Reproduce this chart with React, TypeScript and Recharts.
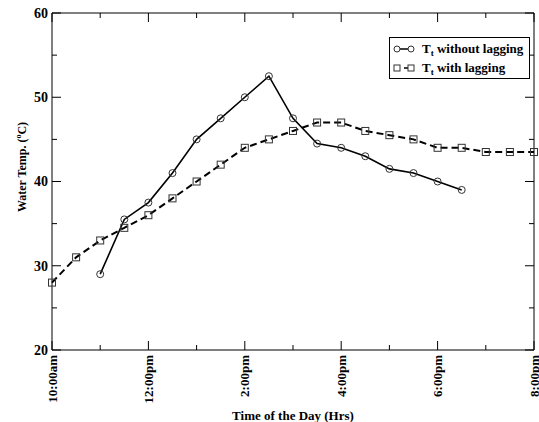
import React from 'react';
import { LineChart, Line, XAxis, YAxis, Legend } from 'recharts';

// hours of the day (decimal, 24h clock)
const hoursWithout = [11, 11.5, 12, 12.5, 13, 13.5, 14, 14.5, 15, 15.5, 16, 16.5, 17, 17.5, 18, 18.5];
const tempWithout = [29, 35.5, 37.5, 41, 45, 47.5, 50, 52.5, 47.5, 44.5, 44, 43, 41.5, 41, 40, 39];

const hoursWith = [10, 10.5, 11, 11.5, 12, 12.5, 13, 13.5, 14, 14.5, 15, 15.5, 16, 16.5, 17, 17.5, 18, 18.5, 19, 19.5, 20];
const tempWith = [28, 31, 33, 34.5, 36, 38, 40, 42, 44, 45, 46, 47, 47, 46, 45.5, 45, 44, 44, 43.5, 43.5, 43.5];

const xTicks = [10, 11, 12, 13, 14, 15, 16, 17, 18, 19, 20];
const xLabels: Record<number, string> = {
  10: '10:00am',
  12: '12:00pm',
  14: '2:00pm',
  16: '4:00pm',
  18: '6:00pm',
  20: '8:00pm',
};
const yTicks = [20, 25, 30, 35, 40, 45, 50, 55, 60];

const dataWithout = hoursWithout.map((h, i) => ({ hour: h, temp: tempWithout[i] }));
const dataWith = hoursWith.map((h, i) => ({ hour: h, temp: tempWith[i] }));

const FONT = '"Liberation Serif", "Times New Roman", serif';

const BottomTick = (props: any) => {
  const { x, y, payload } = props;
  const major = xLabels[payload.value] !== undefined;
  return (
    <g>
      <line x1={x} x2={x} y1={y} y2={y - (major ? 9 : 5)} stroke="#000" strokeWidth={1} />
      {major && (
        <text
          x={x}
          y={y + 5}
          transform={`rotate(-90, ${x}, ${y + 5})`}
          textAnchor="end"
          dy="0.35em"
          fontFamily={FONT}
          fontWeight="bold"
          fontSize={13}
          fill="#000"
        >
          {xLabels[payload.value]}
        </text>
      )}
    </g>
  );
};

const TopTick = (props: any) => {
  const { x, y, payload } = props;
  const major = xLabels[payload.value] !== undefined;
  return <line x1={x} x2={x} y1={y} y2={y + (major ? 9 : 5)} stroke="#000" strokeWidth={1} />;
};

const LeftTick = (props: any) => {
  const { x, y, payload } = props;
  const major = payload.value % 10 === 0;
  return (
    <g>
      <line x1={x} x2={x + (major ? 9 : 5)} y1={y} y2={y} stroke="#000" strokeWidth={1} />
      {major && (
        <text x={x - 4} y={y} dy="0.35em" textAnchor="end" fontFamily={FONT} fontWeight="bold" fontSize={14} fill="#000">
          {payload.value}
        </text>
      )}
    </g>
  );
};

const RightTick = (props: any) => {
  const { x, y, payload } = props;
  const major = payload.value % 10 === 0;
  return <line x1={x} x2={x - (major ? 9 : 5)} y1={y} y2={y} stroke="#000" strokeWidth={1} />;
};

const SquareDot = (props: any) => {
  const { cx, cy, index } = props;
  if (cx == null || cy == null) return <g key={index} />;
  return <rect key={index} x={cx - 3.5} y={cy - 3.5} width={7} height={7} fill="none" stroke="#333" strokeWidth={1} />;
};

const YLabel = () => (
  <text
    x={22}
    y={167}
    transform="rotate(-90, 22, 167)"
    textAnchor="middle"
    dy="0.35em"
    fontFamily={FONT}
    fontWeight="bold"
    fontSize={12}
    fill="#000"
  >
    Water Temp. (<tspan dy="-5" fontSize={8}>o</tspan>
    <tspan dy="5">C)</tspan>
  </text>
);

const rowStyle: React.CSSProperties = { display: 'flex', alignItems: 'center', height: 19 };
const subStyle: React.CSSProperties = { fontSize: 9, lineHeight: 0, verticalAlign: -3 };

const LegendBox = () => (
  <div
    style={{
      border: '1px solid #000',
      background: '#fff',
      fontFamily: FONT,
      fontWeight: 'bold',
      fontSize: 13,
      padding: '1px 6px 1px 3px',
      lineHeight: '19px',
      whiteSpace: 'nowrap',
    }}
  >
    <div style={rowStyle}>
      <svg width={22} height={10} style={{ marginRight: 7 }}>
        <line x1={2} x2={20} y1={5} y2={5} stroke="#000" strokeWidth={1.5} />
        <circle cx={4} cy={5} r={3} fill="#fff" stroke="#333" />
        <circle cx={18} cy={5} r={3} fill="#fff" stroke="#333" />
      </svg>
      <span>
        T<sub style={subStyle}>t</sub> without lagging
      </span>
    </div>
    <div style={rowStyle}>
      <svg width={22} height={10} style={{ marginRight: 7 }}>
        <line x1={2} x2={20} y1={5} y2={5} stroke="#000" strokeWidth={1.5} strokeDasharray="5 4" />
        <rect x={1} y={2} width={6} height={6} fill="#fff" stroke="#333" />
        <rect x={15} y={2} width={6} height={6} fill="#fff" stroke="#333" />
      </svg>
      <span>
        T<sub style={subStyle}>t</sub> with lagging
      </span>
    </div>
  </div>
);

export default function App() {
  return (
    <div style={{ position: 'absolute', left: 0, top: 0, width: 539, height: 422, background: '#fff' }}>
      <LineChart width={539} height={422} margin={{ top: 12, right: 4, bottom: 0, left: 0 }}>
        <XAxis
          xAxisId="bottom"
          dataKey="hour"
          type="number"
          domain={[10, 20]}
          ticks={xTicks}
          interval={0}
          allowDuplicatedCategory={false}
          height={72}
          tickSize={0}
          tickMargin={0}
          tickLine={false}
          tick={<BottomTick />}
          axisLine={{ stroke: '#000', strokeWidth: 1 }}
          label={{
            value: 'Time of the Day (Hrs)',
            position: 'insideBottom',
            offset: 2,
            style: { fontFamily: FONT, fontWeight: 'bold', fontSize: 13, fill: '#000' },
          }}
        />
        <XAxis
          xAxisId="top"
          dataKey="hour"
          orientation="top"
          type="number"
          domain={[10, 20]}
          ticks={xTicks}
          interval={0}
          allowDuplicatedCategory={false}
          height={1}
          tickSize={0}
          tickMargin={0}
          tickLine={false}
          tick={<TopTick />}
          axisLine={{ stroke: '#000', strokeWidth: 1 }}
        />
        <YAxis
          yAxisId="left"
          type="number"
          domain={[20, 60]}
          ticks={yTicks}
          interval={0}
          width={52}
          tickSize={0}
          tickMargin={0}
          tickLine={false}
          tick={<LeftTick />}
          axisLine={{ stroke: '#000', strokeWidth: 1 }}
          label={{ content: () => <YLabel /> }}
        />
        <YAxis
          yAxisId="right"
          orientation="right"
          type="number"
          domain={[20, 60]}
          ticks={yTicks}
          interval={0}
          width={1}
          tickSize={0}
          tickMargin={0}
          tickLine={false}
          tick={<RightTick />}
          axisLine={{ stroke: '#000', strokeWidth: 1 }}
        />
        <Legend
          layout="horizontal"
          verticalAlign="middle"
          align="center"
          content={<LegendBox />}
          wrapperStyle={{ position: 'absolute', top: 37, left: 389, right: 'auto', bottom: 'auto', width: 'auto' }}
        />
        <Line
          xAxisId="top"
          yAxisId="right"
          data={dataWithout}
          dataKey="temp"
          name="Tt without lagging"
          type="linear"
          stroke="#000"
          strokeWidth={1.6}
          dot={{ r: 3.5, fill: 'none', stroke: '#333', strokeWidth: 1 }}
          activeDot={false}
          isAnimationActive={false}
        />
        <Line
          xAxisId="bottom"
          yAxisId="left"
          data={dataWith}
          dataKey="temp"
          name="Tt with lagging"
          type="linear"
          stroke="#000"
          strokeWidth={2}
          strokeDasharray="7 4"
          dot={<SquareDot />}
          activeDot={false}
          isAnimationActive={false}
        />
      </LineChart>
    </div>
  );
}
